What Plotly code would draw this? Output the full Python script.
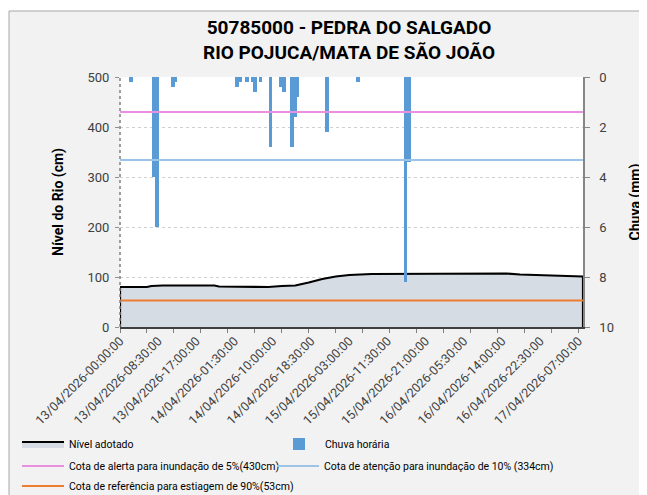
import plotly.graph_objects as go
from datetime import datetime, timedelta

# ---------------- data ----------------
title_lines = ["50785000 - PEDRA DO SALGADO", "RIO POJUCA/MATA DE SÃO JOÃO"]

# river level (cm)
level_times = ["2026-04-13 00:00", "2026-04-13 06:00", "2026-04-13 07:00", "2026-04-13 09:30",
               "2026-04-13 21:00", "2026-04-13 22:00", "2026-04-14 05:00", "2026-04-14 09:00",
               "2026-04-14 12:00", "2026-04-14 15:00", "2026-04-14 18:00", "2026-04-14 21:00",
               "2026-04-15 00:00", "2026-04-15 03:00", "2026-04-15 08:00", "2026-04-16 02:00",
               "2026-04-16 15:00", "2026-04-16 18:00", "2026-04-17 02:00", "2026-04-17 08:00"]
level_cm = [80, 80, 82, 83, 83, 81, 80, 80, 82, 83, 89, 96, 101, 104, 106, 106, 107, 105, 103, 101]

# hourly rain (mm)
rain_times = ["2026-04-13 02:30", "2026-04-13 07:30", "2026-04-13 08:15", "2026-04-13 11:45",
              "2026-04-13 12:15", "2026-04-14 02:00", "2026-04-14 02:45", "2026-04-14 04:15",
              "2026-04-14 05:30", "2026-04-14 06:00", "2026-04-14 07:15", "2026-04-14 09:30",
              "2026-04-14 11:45", "2026-04-14 12:30", "2026-04-14 14:15", "2026-04-14 15:00",
              "2026-04-14 15:30", "2026-04-14 22:00", "2026-04-15 05:00", "2026-04-15 16:30",
              "2026-04-15 17:15"]
rain_mm = [0.2, 4.0, 6.0, 0.4, 0.2, 0.4, 0.2, 0.2, 0.2, 0.6, 0.2, 2.8, 0.4, 0.6, 2.8, 1.6,
           0.8, 2.2, 0.2, 8.2, 3.4]

# missing hour in the series (category axis skips it)
gap_start = "2026-04-15 13:00"

# reference levels (cm)
cota_alerta = 430
cota_atencao = 334
cota_referencia = 53

x_tick_labels = ["13/04/2026-00:00:00", "13/04/2026-08:30:00", "13/04/2026-17:00:00",
                 "14/04/2026-01:30:00", "14/04/2026-10:00:00", "14/04/2026-18:30:00",
                 "15/04/2026-03:00:00", "15/04/2026-11:30:00", "15/04/2026-21:00:00",
                 "16/04/2026-05:30:00", "16/04/2026-14:00:00", "16/04/2026-22:30:00",
                 "17/04/2026-07:00:00"]
y_left_ticks = [0, 100, 200, 300, 400, 500]
y_right_ticks = [0, 2, 4, 6, 8, 10]

# ---------------- derived ----------------
x_tick_vals = [datetime.strptime(s, "%d/%m/%Y-%H:%M:%S") for s in x_tick_labels]
x_start = level_times[0]
x_end = level_times[-1]

FONT = "Roboto, Liberation Sans, sans-serif"

# layout geometry (px)
W, H = 647, 495
ML, MR, MT, MB = 112, 72, 69, 176
PW, PH = W - ML - MR, H - MT - MB


def px_x(px):
    return (px - ML) / PW


def px_y(py):
    return (H - MB - py) / PH


fig = go.Figure()

# level area (closed polygon so the outline encloses the area)
fig.add_trace(go.Scatter(
    x=[x_start] + level_times + [x_end],
    y=[0] + level_cm + [0],
    mode="lines", fill="toself", fillcolor="#D6DCE4",
    line=dict(color="#000000", width=2.2),
    name="Nível adotado", yaxis="y", hoverinfo="skip", legend="legend"))

# rain bars on reversed right axis
fig.add_trace(go.Bar(
    x=rain_times, y=rain_mm, width=0.8 * 3600 * 1000,
    marker=dict(color="#5B9BD5", line=dict(width=0)),
    name="Chuva horária", yaxis="y2", legend="legend"))

# reference lines
for val, col, nm, lg in [
    (cota_alerta, "#E991E0", "Cota de alerta para inundação de 5%(430cm)", "legend2"),
    (cota_atencao, "#9DC3E6", "Cota de atenção para inundação de 10% (334cm)", "legend4"),
    (cota_referencia, "#ED7D31", "Cota de referência para estiagem de 90%(53cm)", "legend3"),
]:
    fig.add_trace(go.Scatter(x=[x_start, x_end], y=[val, val], mode="lines",
                             line=dict(color=col, width=2), name=nm, yaxis="y3",
                             legend=lg))

# minor tick marks every 12 categories (6 h of positions), skipping the gap hour
gap_dt = datetime.strptime(gap_start, "%Y-%m-%d %H:%M")
t0 = datetime.strptime(x_start, "%Y-%m-%d %H:%M")
minor_vals = []
for k in range(0, 18):
    t = t0 + timedelta(hours=6 * k)
    if t >= gap_dt:
        t += timedelta(hours=1)
    minor_vals.append(t)


def leg(row_center, left=9, entrywidth=None):
    d = dict(orientation="h", x=px_x(left), xanchor="left",
             y=px_y(row_center - 13.5), yanchor="top",
             itemwidth=42, bgcolor="rgba(0,0,0,0)",
             font=dict(family=FONT, size=10.5, color="#000000"),
             traceorder="normal")
    if entrywidth:
        d["entrywidth"] = entrywidth
    return d


fig.update_layout(
    width=W, height=H, autosize=False,
    margin=dict(l=ML, r=MR, t=MT, b=MB, autoexpand=False),
    paper_bgcolor="#F2F2F2", plot_bgcolor="#FFFFFF",
    title=dict(text="<b>" + "<br>".join(title_lines) + "</b>",
               x=341 / W, xanchor="center", y=1 - 26 / H, yanchor="top",
               font=dict(family=FONT, size=19, color="#000000")),
    xaxis=dict(type="date", range=[x_start, x_end], automargin=False,
               rangebreaks=[dict(values=[gap_start], dvalue=3600 * 1000)],
               tickmode="array", tickvals=x_tick_vals, ticktext=x_tick_labels,
               tickangle=-45, ticks="", showgrid=False,
               tickfont=dict(family=FONT, size=12.5, color="#404040"),
               showline=True, linecolor="#404040", linewidth=1.5,
               minor=dict(tickmode="array", tickvals=minor_vals, ticks="outside",
                          ticklen=4, tickcolor="#808080", showgrid=False),
               zeroline=False),
    yaxis=dict(range=[0, 500], tickvals=y_left_ticks, showgrid=True, automargin=False,
               gridcolor="#D0D0D0", griddash="dot", gridwidth=1,
               ticks="outside", ticklen=4, tickcolor="#909090", ticklabelstandoff=3,
               tickfont=dict(family=FONT, size=13, color="#404040"),
               showline=False, zeroline=False,
               title=dict(text="<b>Nível do Rio (cm)</b>", standoff=20,
                          font=dict(family=FONT, size=14, color="#000000"))),
    yaxis2=dict(range=[10, 0], tickvals=y_right_ticks, overlaying="y", side="right",
                showgrid=False, zeroline=False, ticks="outside", ticklen=5, automargin=False,
                tickcolor="#868686", showline=True, linecolor="#868686", linewidth=1.5,
                ticklabelstandoff=7,
                tickfont=dict(family=FONT, size=13, color="#404040"),
                title=dict(text="<b>Chuva (mm)</b>", standoff=17,
                           font=dict(family=FONT, size=14, color="#000000"))),
    yaxis3=dict(range=[0, 500], overlaying="y", visible=False),
    bargap=0,
    showlegend=True,
    legend=leg(435, entrywidth=199),
    legend2=leg(457),
    legend4=leg(457, left=264),
    legend3=leg(477),
    shapes=[
        # dotted left axis line
        dict(type="line", xref="paper", yref="paper", x0=0, x1=0, y0=0, y1=1,
             line=dict(color="#808080", width=1.5, dash="dot"), layer="above"),
        # white strips outside the chart border
        dict(type="rect", xref="paper", yref="paper", x0=-0.5, x1=px_x(1),
             y0=-1, y1=1.6, fillcolor="#FFFFFF", line=dict(width=0), layer="below"),
        dict(type="rect", xref="paper", yref="paper", x0=-0.5, x1=1.5,
             y0=px_y(3), y1=1.6, fillcolor="#FFFFFF", line=dict(width=0),
             layer="below"),
        # chart border
        dict(type="rect", xref="paper", yref="paper", x0=px_x(1), x1=1.5,
             y0=-1, y1=px_y(3), fillcolor="rgba(0,0,0,0)",
             line=dict(color="#A6A6A6", width=1), layer="below"),
    ],
)

fig.write_html("out.html")
